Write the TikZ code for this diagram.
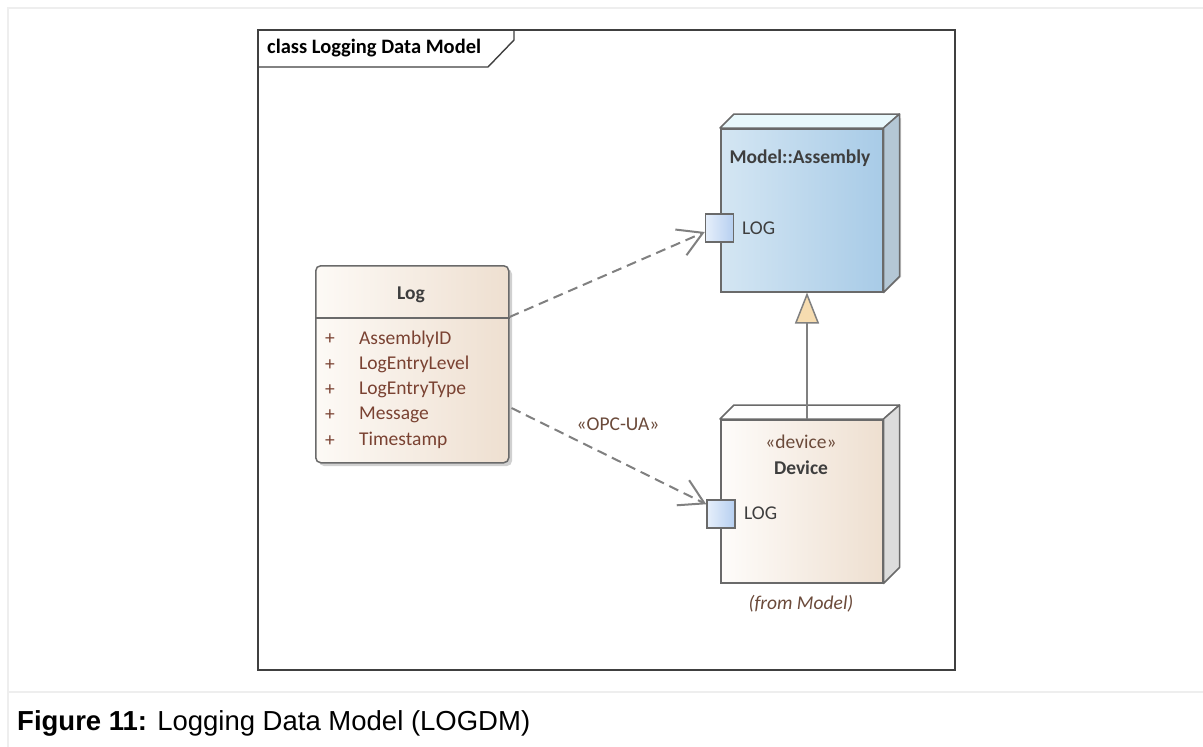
\documentclass[tikz,border=0pt]{standalone}
\usepackage{fontspec}
\setmainfont{Carlito}
\newfontfamily\capfont{Liberation Sans}
\usetikzlibrary{arrows.meta,calc}
\definecolor{outerc}{HTML}{EEEEEE}
\definecolor{framec}{HTML}{404040}
\definecolor{edgec}{HTML}{6A6A6A}
\definecolor{logL}{HTML}{FDFAF6}
\definecolor{logR}{HTML}{EEDFD0}
\definecolor{asmL}{HTML}{D4E6F3}
\definecolor{asmR}{HTML}{A8CBE7}
\definecolor{asmTop}{HTML}{E8F8FC}
\definecolor{asmSide}{HTML}{B4C7D5}
\definecolor{devL}{HTML}{FEFCFA}
\definecolor{devR}{HTML}{EEDFD0}
\definecolor{devSide}{HTML}{DCDCDC}
\definecolor{portL}{HTML}{E6EFFB}
\definecolor{portR}{HTML}{B6CFF0}
\definecolor{genfill}{HTML}{F6DCB0}
\definecolor{linec}{HTML}{808080}
\definecolor{attrc}{HTML}{7A4232}
\definecolor{txtc}{HTML}{3E3E3E}
\definecolor{stc}{HTML}{6B4A3A}
\definecolor{shadowc}{HTML}{D0D0D0}
\tikzset{
  dgm/.style={font=\fontsize{19.5}{23}\selectfont, text=txtc, inner sep=0pt},
  dgmb/.style={dgm, font=\bfseries\fontsize{19.5}{23}\selectfont},
  attr/.style={dgm, text=attrc, anchor=west},
  boxedge/.style={draw=edgec, line width=1.5pt},
  depline/.style={draw=linec, line width=2pt, dash pattern=on 10pt off 6pt,
    -{Straight Barb[length=24pt,width=28pt,line width=2pt]}},
  genline/.style={draw=linec, line width=2pt,
    -{Triangle[open,length=31pt,width=24pt,fill=genfill,line width=1.5pt]}},
  portbox/.style={boxedge, left color=portL, right color=portR, minimum size=28pt, inner sep=0pt}
}
\begin{document}
\begin{tikzpicture}[x=1pt,y=-1pt]
\useasboundingbox (0,0) rectangle (1203,747);
\fill[white] (0,0) rectangle (1203,747);
\draw[outerc, line width=2pt] (8,747) -- (8,8) -- (1203,8);
\draw[outerc, line width=2pt] (8,692) -- (1203,692);

% frame
\draw[framec, line width=1.4pt] (258,30) rectangle (955,670);
\draw[framec, line width=1.4pt] (258,67) -- (488,67) -- (514,40) -- (514,30);
\node[dgmb, anchor=west, text=black, font=\bfseries\fontsize{20.5}{24}\selectfont] (title) at (267,48) {class Logging Data Model};

% Log class
\fill[shadowc, rounded corners=5pt] (319,269) rectangle (512,466);
\node[boxedge, rounded corners=5pt, left color=logL, right color=logR,
  minimum width=193pt, minimum height=197pt, anchor=north west, inner sep=0pt] (log) at (315,265) {};
\draw[edgec, line width=1.5pt] ($(log.north west)+(0,53)$) -- ($(log.north east)+(0,53)$);
\node[dgmb] (logname) at (411,295) {Log};
\foreach \t [count=\i from 0] in {AssemblyID,LogEntryLevel,LogEntryType,Message,Timestamp}{
  \node[attr] (plus\i) at (325,339.5+25.3*\i) {+};
  \node[attr] (attr\i) at (359,339.5+25.3*\i) {\t};
}

% Assembly node
\fill[shadowc] (884,293) -- (901,277) -- (901,118) -- (884,130) -- cycle;
\node[boxedge, left color=asmL, right color=asmR, minimum width=162pt, minimum height=163pt,
  anchor=north west, inner sep=0pt] (asm) at (720,128) {};
\draw[edgec, line width=1.5pt, fill=asmTop, line join=round] (asm.north west) -- ++(14,-14) -- ($(asm.north east)+(16,-14)$) -- (asm.north east) -- cycle;
\draw[edgec, line width=1.5pt, fill=asmSide, line join=round] (asm.north east) -- ++(16,-14) -- ($(asm.south east)+(16,-16)$) -- (asm.south east) -- cycle;
\node[dgmb] (asmname) at (800,158) {Model::Assembly};
\node[portbox] (asmport) at (719.5,228) {};
\node[dgm, anchor=west] (asmlog) at (742,228) {LOG};

% Device node
\node[boxedge, left color=devL, right color=devR, minimum width=162pt, minimum height=163pt,
  anchor=north west, inner sep=0pt] (dev) at (720,419) {};
\draw[edgec, line width=1.5pt, fill=white, line join=round] (dev.north west) -- ++(14,-14) -- ($(dev.north east)+(16,-14)$) -- (dev.north east) -- cycle;
\draw[edgec, line width=1.5pt, fill=devSide, line join=round] (dev.north east) -- ++(16,-14) -- ($(dev.south east)+(16,-16)$) -- (dev.south east) -- cycle;
\node[dgm, text=stc] (devst) at (801,442) {«device»};
\node[dgmb] (devname) at (801,468) {Device};
\node[portbox] (devport) at (721,514) {};
\node[dgm, anchor=west] (devlog) at (744,513) {LOG};
\node[dgm, font=\itshape\fontsize{19.5}{23}\selectfont, text=stc] (from) at (801,604) {(from Model)};

% connectors
\draw[depline] ($(log.north east)+(0,52)$) -- ($(asmport.west)+(0,4)$);
\draw[depline] ($(log.north east)+(2,143)$) -- ($(devport.north west)+(0,5)$);
\node[dgm, text=stc] (opc) at (618,424) {«OPC-UA»};
\draw[genline] ($(dev.north west)+(87,0)$) -- ($(asm.south west)+(87,0)$);

% caption
\node[anchor=west, inner sep=0pt, font=\capfont\fontsize{27.5}{32}\selectfont] (cap) at (17,723) {\textbf{Figure 11:} Logging Data Model (LOGDM)};
\end{tikzpicture}
\end{document}
